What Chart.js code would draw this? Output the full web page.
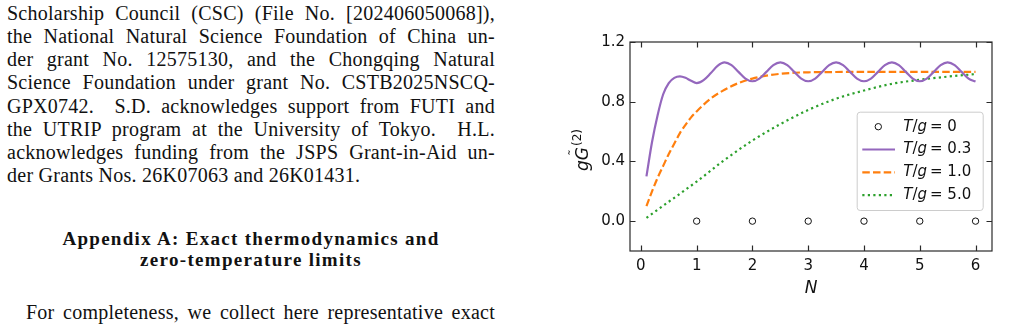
<!DOCTYPE html>
<html>
<head>
<meta charset="utf-8">
<script src="https://cdn.jsdelivr.net/npm/chart.js@4.4.7/dist/chart.umd.min.js"></script>
<style>
  html, body { margin: 0; padding: 0; background: #fff; }
  body { width: 1019px; height: 334px; position: relative; overflow: hidden; }
  .col { position: absolute; left: 7px; width: 488px; font-family: "Liberation Serif", serif; color: #111; }
  .body { top: 2.2px; font-size: 20px; line-height: 23.1px; letter-spacing: 0.25px; }
  .body div { text-align: justify; text-align-last: justify; }
  .body div.last { text-align-last: left; }
  .head { top: 229px; font-size: 19px; line-height: 20.5px; font-weight: bold; text-align: center; letter-spacing: 1.3px; }
  .para { top: 300.6px; font-size: 20px; line-height: 23.1px; letter-spacing: 0.25px; }
  .para div { text-align: justify; text-align-last: justify; padding-left: 19px; }
  #wrap { position: absolute; left: 540px; top: 20px; width: 479px; height: 300px; }
</style>
</head>
<body>
<div class="col body">
  <div>Scholarship Council (CSC) (File No. [202406050068]),</div>
  <div>the National Natural Science Foundation of China un-</div>
  <div>der grant No. 12575130, and the Chongqing Natural</div>
  <div>Science Foundation under grant No. CSTB2025NSCQ-</div>
  <div>GPX0742.&nbsp; S.D. acknowledges support from FUTI and</div>
  <div>the UTRIP program at the University of Tokyo.&nbsp; H.L.</div>
  <div>acknowledges funding from the JSPS Grant-in-Aid un-</div>
  <div class="last">der Grants Nos. 26K07063 and 26K01431.</div>
</div>
<div class="col head">
  <div>Appendix A: Exact thermodynamics and</div>
  <div>zero-temperature limits</div>
</div>
<div class="col para">
  <div>For completeness, we collect here representative exact</div>
</div>
<div id="wrap"><canvas id="chart" width="479" height="300"></canvas></div>
<script>
var xTicks = [0, 1, 2, 3, 4, 5, 6];
var yTicks = [0, 0.4, 0.8, 1.2];
var tempLabels = ['0', '0.3', '1.0', '5.0'];

var nZero = [1, 2, 3, 4, 5, 6];
var zero = [0, 0, 0, 0, 0, 0];

var nPurple = [0.1, 0.2, 0.3, 0.4, 0.5, 0.6, 0.7, 0.8, 0.9, 1.0,
  1.125, 1.25, 1.375, 1.5, 1.625, 1.75, 1.875, 2.0,
  2.125, 2.25, 2.375, 2.5, 2.625, 2.75, 2.875, 3.0,
  3.125, 3.25, 3.375, 3.5, 3.625, 3.75, 3.875, 4.0,
  4.125, 4.25, 4.375, 4.5, 4.625, 4.75, 4.875, 5.0,
  5.125, 5.25, 5.375, 5.5, 5.625, 5.75, 5.875, 6.0];
var purple = [0.30, 0.53, 0.71, 0.85, 0.925, 0.96, 0.97, 0.96, 0.94, 0.925,
  0.945, 0.99, 1.04, 1.063, 1.045, 1.0, 0.955, 0.937,
  0.955, 1.0, 1.045, 1.063, 1.045, 1.0, 0.955, 0.937,
  0.955, 1.0, 1.045, 1.063, 1.045, 1.0, 0.955, 0.937,
  0.955, 1.0, 1.045, 1.063, 1.045, 1.0, 0.955, 0.937,
  0.955, 1.0, 1.045, 1.063, 1.045, 1.0, 0.955, 0.935];

var nOrange = [0.1, 0.2, 0.3, 0.4, 0.5, 0.6, 0.7, 0.8, 0.9, 1.0, 1.25, 1.5, 1.75, 2.0,
  2.25, 2.5, 2.75, 3.0, 3.5, 4.0, 4.5, 5.0, 5.5, 6.0];
var orange = [0.10, 0.20, 0.29, 0.37, 0.45, 0.52, 0.59, 0.645, 0.695, 0.735, 0.82, 0.88, 0.925, 0.955,
  0.975, 0.987, 0.994, 0.997, 0.999, 1.0, 1.0, 1.0, 1.0, 1.0];

var nGreen = [0.1, 0.5, 1.0, 1.5, 2.0, 2.5, 3.0, 3.5, 4.0, 4.5, 5.0, 5.5, 6.0];
var green = [0.022, 0.13, 0.265, 0.41, 0.54, 0.65, 0.745, 0.82, 0.875, 0.92, 0.947, 0.968, 0.985];

function pts(xs, ys) {
  return xs.map(function (x, i) { return { x: x, y: ys[i] }; });
}

var FONT = '"DejaVu Sans", sans-serif';
var AXIS = '#2a2a2a';

// frame with inward ticks on all four sides
var framePlugin = {
  id: 'frame',
  afterDraw: function (chart) {
    var ctx = chart.ctx, a = chart.chartArea;
    var xs = chart.scales.x, ys = chart.scales.y, tl = 5.5;
    ctx.save();
    ctx.strokeStyle = AXIS;
    ctx.lineWidth = 1.2;
    ctx.strokeRect(a.left, a.top, a.right - a.left, a.bottom - a.top);
    ctx.beginPath();
    xTicks.forEach(function (v) {
      var p = Math.round(xs.getPixelForValue(v)) + 0.5;
      ctx.moveTo(p, a.bottom); ctx.lineTo(p, a.bottom - tl);
      ctx.moveTo(p, a.top); ctx.lineTo(p, a.top + tl);
    });
    yTicks.forEach(function (v) {
      var p = Math.round(ys.getPixelForValue(v)) + 0.5;
      ctx.moveTo(a.left, p); ctx.lineTo(a.left + tl, p);
      ctx.moveTo(a.right, p); ctx.lineTo(a.right - tl, p);
    });
    ctx.stroke();

    // axis labels
    ctx.fillStyle = '#111';
    ctx.textBaseline = 'alphabetic';
    ctx.font = 'italic 17px ' + FONT;
    ctx.textAlign = 'center';
    ctx.fillText('N', (a.left + a.right) / 2, 273);

    ctx.translate(48.3, 130);
    ctx.rotate(-Math.PI / 2);
    ctx.textAlign = 'left';
    ctx.font = 'italic 17px ' + FONT;
    var wg = ctx.measureText('g').width;
    var wG = ctx.measureText('G').width;
    ctx.font = '12px ' + FONT;
    var w2 = ctx.measureText('(2)').width;
    var x = -(wg + wG + 1 + w2) / 2;
    ctx.font = 'italic 17px ' + FONT;
    ctx.fillText('g', x, 0);
    ctx.fillText('G', x + wg, 0);
    ctx.font = '13px ' + FONT;
    ctx.textAlign = 'center';
    ctx.fillText('\u02DC', x + wg + wG / 2 + 1, -10.5);
    ctx.textAlign = 'left';
    ctx.font = '12px ' + FONT;
    ctx.fillText('(2)', x + wg + wG + 1, -7);
    ctx.restore();
  }
};

// legend box inside the axes
var legendPlugin = {
  id: 'boxLegend',
  afterDraw: function (chart) {
    var ctx = chart.ctx, a = chart.chartArea;
    var w = 126, h = 98.3;
    var bx = a.right - 9.3 - w, by = a.top + 69.7;
    ctx.save();
    ctx.beginPath();
    ctx.roundRect(bx + 0.5, by + 0.5, w, h, 3);
    ctx.fillStyle = 'rgba(255,255,255,0.8)';
    ctx.fill();
    ctx.strokeStyle = '#cccccc';
    ctx.lineWidth = 1;
    ctx.stroke();

    chart.data.datasets.forEach(function (ds, i) {
      var cy = by + 15 + i * 22.8;
      if (i === 0) {
        ctx.beginPath();
        ctx.arc(bx + 21.6, cy, ds.pointRadius, 0, Math.PI * 2);
        ctx.fillStyle = '#fff';
        ctx.fill();
        ctx.strokeStyle = ds.borderColor;
        ctx.lineWidth = ds.borderWidth;
        ctx.stroke();
      } else {
        ctx.beginPath();
        ctx.setLineDash(ds.borderDash || []);
        ctx.strokeStyle = ds.borderColor;
        ctx.lineWidth = ds.borderWidth;
        ctx.moveTo(bx + 5.6, cy);
        ctx.lineTo(bx + 38.3, cy);
        ctx.stroke();
        ctx.setLineDash([]);
      }
      var tx = bx + 46.6;
      ctx.fillStyle = '#111';
      ctx.textBaseline = 'middle';
      ctx.textAlign = 'left';
      ctx.font = 'italic 15px ' + FONT;
      ctx.fillText('T', tx, cy);
      tx += ctx.measureText('T').width;
      ctx.font = '15px ' + FONT;
      ctx.fillText('/', tx, cy);
      tx += ctx.measureText('/').width;
      ctx.font = 'italic 15px ' + FONT;
      ctx.fillText('g', tx, cy);
      tx += ctx.measureText('g').width + 3;
      ctx.font = '15px ' + FONT;
      ctx.fillText('= ' + tempLabels[i], tx, cy);
    });
    ctx.restore();
  }
};

var ctx = document.getElementById('chart').getContext('2d');
new Chart(ctx, {
  type: 'line',
  data: {
    datasets: [
      {
        label: 'T/g = ' + tempLabels[0],
        data: pts(nZero, zero),
        showLine: false,
        pointStyle: 'circle',
        pointRadius: 3.2,
        pointBackgroundColor: '#fff',
        pointBorderColor: '#111',
        borderColor: '#111',
        borderWidth: 1,
        pointBorderWidth: 1,
      },
      {
        label: 'T/g = ' + tempLabels[1],
        data: pts(nPurple, purple),
        borderColor: '#9467bd',
        borderWidth: 2.2,
        pointRadius: 0,
        cubicInterpolationMode: 'monotone',
      },
      {
        label: 'T/g = ' + tempLabels[2],
        data: pts(nOrange, orange),
        borderColor: '#ff7f0e',
        borderWidth: 2.2,
        borderDash: [7.5, 3.2],
        pointRadius: 0,
        cubicInterpolationMode: 'monotone',
      },
      {
        label: 'T/g = ' + tempLabels[3],
        data: pts(nGreen, green),
        borderColor: '#2ca02c',
        borderWidth: 2.2,
        borderDash: [2.2, 3.3],
        pointRadius: 0,
        cubicInterpolationMode: 'monotone',
      },
    ],
  },
  options: {
    responsive: false,
    animation: false,
    devicePixelRatio: 1,
    layout: { padding: { left: 0, right: 27, top: 22, bottom: 0 } },
    plugins: { legend: { display: false }, tooltip: { enabled: false } },
    scales: {
      x: {
        type: 'linear',
        min: -0.195,
        max: 6.295,
        grid: { display: false, drawTicks: false },
        border: { display: false },
        afterBuildTicks: function (s) { s.ticks = xTicks.map(function (v) { return { value: v }; }); },
        afterFit: function (s) { s.height = 69; },
        ticks: {
          color: '#111',
          font: { family: FONT, size: 15 },
          padding: 6,
          maxRotation: 0,
          callback: function (v) { return String(v); },
        },
      },
      y: {
        min: -0.2,
        max: 1.2,
        grid: { display: false, drawTicks: false },
        border: { display: false },
        afterBuildTicks: function (s) { s.ticks = yTicks.map(function (v) { return { value: v }; }); },
        afterFit: function (s) { s.width = 90; },
        ticks: {
          color: '#111',
          font: { family: FONT, size: 15 },
          padding: 5,
          callback: function (v) { return v.toFixed(1); },
        },
      },
    },
  },
  plugins: [framePlugin, legendPlugin],
});
</script>
</body>
</html>
